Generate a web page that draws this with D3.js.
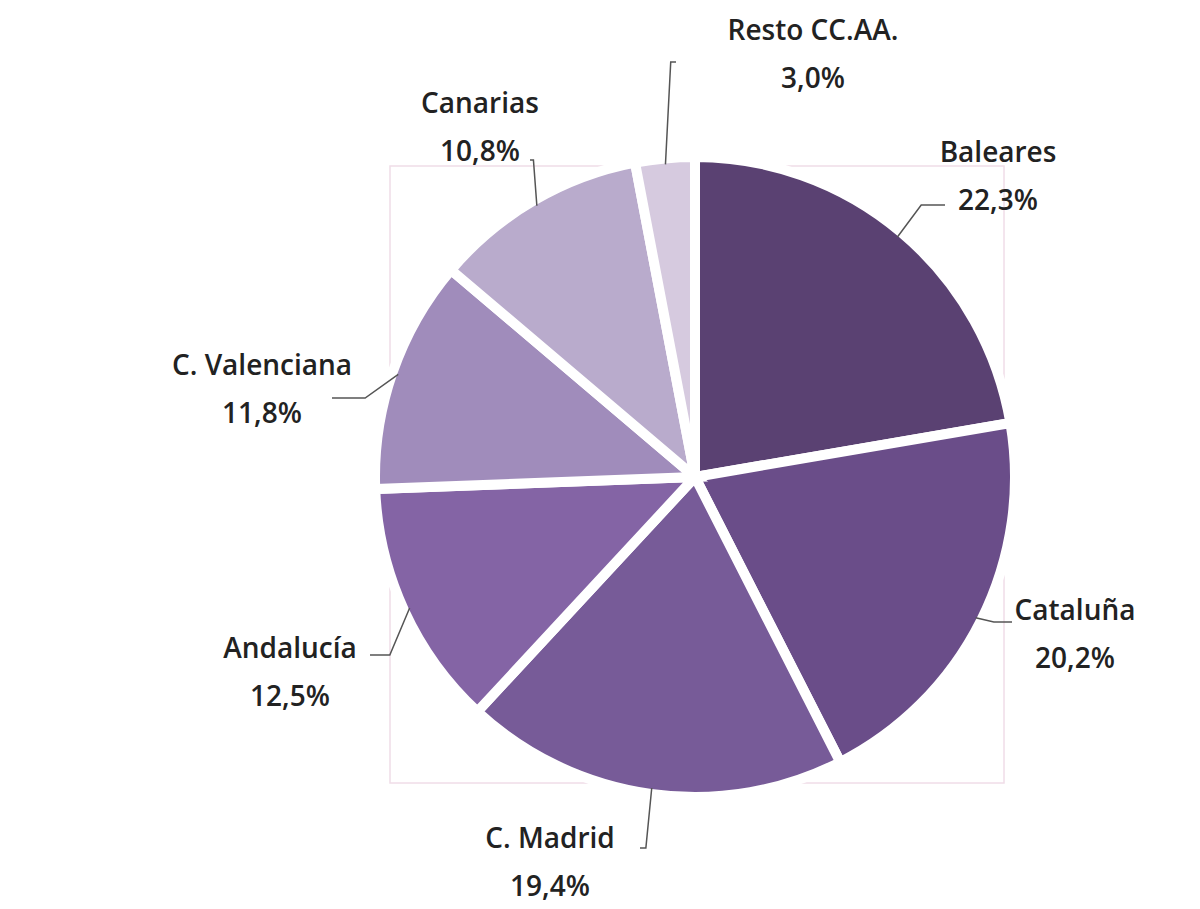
<!DOCTYPE html>
<html><head><meta charset="utf-8">
<script src="https://cdn.jsdelivr.net/npm/d3@7/dist/d3.min.js"></script>
<style>body{margin:0;background:#fff}</style></head>
<body><svg id="c" width="1200" height="909"></svg>
<script>
const categories=["Baleares","Cataluña","C. Madrid","Andalucía","C. Valenciana","Canarias","Resto CC.AA."];
const values=[22.3,20.2,19.4,12.5,11.8,10.8,3.0];
const labels=["22,3%","20,2%","19,4%","12,5%","11,8%","10,8%","3,0%"];
const colors=["#5a4172","#6a4d89","#775b98","#8464a5","#a08cbb","#b9abcc","#d6cadf"];
// label anchor positions (layout)
const labelPos=[[998,152],[1075,610],[550,838],[290,648],[262,365],[480,103],[813,30]];
const lineEnd=[[945,205],[1012,622],[640,848],[370,655],[332,398],[530,160],[676,62]];
const svg=d3.select("#c");
const cx=695,cy=477,R=320;
svg.append("rect").attr("x",390).attr("y",166).attr("width",614).attr("height",617).attr("fill","none").attr("stroke","#f0dde8").attr("stroke-width",1.5);
const pie=d3.pie().sort(null).value(d=>d)(values);
const arc=d3.arc().innerRadius(0).outerRadius(R);
const g=svg.append("g").attr("transform",`translate(${cx},${cy})`);
g.selectAll("path").data(pie).join("path").attr("d",arc).attr("fill",(d,i)=>colors[i]).attr("stroke","#fff").attr("stroke-width",10).attr("stroke-linejoin","miter");
pie.forEach((d,i)=>{
  const a=(d.startAngle+d.endAngle)/2;
  const ex=cx+Math.sin(a)*(R-6), ey=cy-Math.cos(a)*(R-6);
  const [lx,ly]=lineEnd[i];
  svg.append("path").attr("d",`M${lx},${ly}L${(lx+ex)/2},${ly}L${ex},${ey}`).attr("fill","none").attr("stroke","#555").attr("stroke-width",1.5);
  const t=svg.append("text").attr("text-anchor","middle").attr("font-family","Open Sans, sans-serif").attr("font-weight","600").attr("font-size",28).attr("fill","#222");
  t.append("tspan").attr("x",labelPos[i][0]).attr("y",labelPos[i][1]+10).text(categories[i]);
  t.append("tspan").attr("x",labelPos[i][0]).attr("y",labelPos[i][1]+58).text(labels[i]);
});
</script></body></html>
